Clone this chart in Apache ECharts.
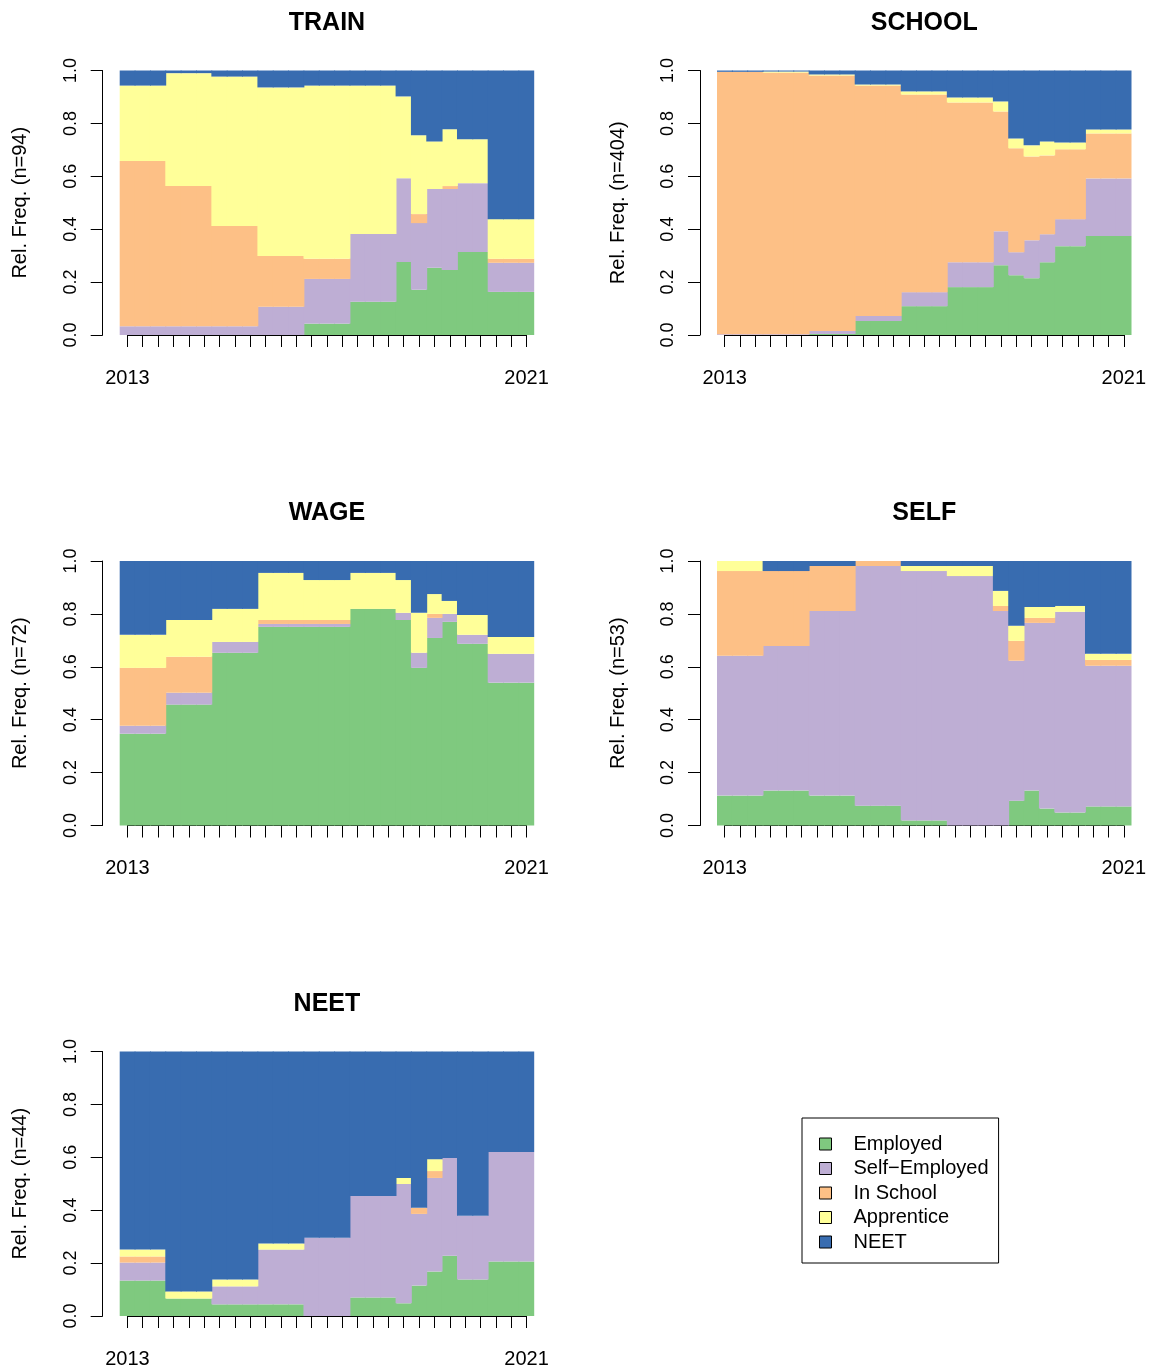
<!DOCTYPE html>
<html><head><meta charset="utf-8">
<script src="https://cdn.jsdelivr.net/npm/echarts@6/dist/echarts.min.js"></script>
<style>html,body{margin:0;padding:0;background:#fff}#c{width:1154px;height:1371px}</style>
</head><body><div id="c"></div>
<script>
// ---------- DATA ----------
const timeLabels = ['2013','','','','','','','','','','','','','','','','','','','','','','','','','','2021'];
const stateNames = ['Employed','Self\u2212Employed','In School','Apprentice','NEET'];
const panelNames = ['TRAIN','SCHOOL','WAGE','SELF','NEET'];
const panelN = [94, 404, 72, 53, 44];

const trainEmployed = [0,0,0, 0,0,0, 0,0,0, 0,0,0, 0.043,0.043,0.043, 0.126,0.126,0.126, 0.276, 0.171, 0.254, 0.246, 0.314,0.314, 0.163,0.163,0.163];
const trainSelf     = [0.033,0.033,0.033, 0.033,0.033,0.033, 0.033,0.033,0.033, 0.107,0.107,0.107, 0.169,0.169,0.169, 0.256,0.256,0.256, 0.317, 0.252, 0.298, 0.306, 0.260,0.260, 0.110,0.110,0.110];
const trainSchool   = [0.625,0.625,0.625, 0.530,0.530,0.530, 0.379,0.379,0.379, 0.192,0.192,0.192, 0.076,0.076,0.076, 0,0,0, 0, 0.034, 0, 0.011, 0,0, 0.015,0.015,0.015];
const trainAppr     = [0.285,0.285,0.285, 0.427,0.427,0.427, 0.565,0.565,0.565, 0.637,0.637,0.637, 0.655,0.655,0.655, 0.561,0.561,0.561, 0.309, 0.298, 0.180, 0.215, 0.166,0.166, 0.150,0.150,0.150];
const trainNeet     = [0.057,0.057,0.057, 0.010,0.010,0.010, 0.023,0.023,0.023, 0.064,0.064,0.064, 0.057,0.057,0.057, 0.057,0.057,0.057, 0.098, 0.245, 0.268, 0.222, 0.260,0.260, 0.562,0.562,0.562];

const schoolEmployed = [0,0,0, 0,0,0, 0.004,0.004,0.004, 0.053,0.053,0.053, 0.109,0.109,0.109, 0.181,0.181,0.181, 0.264, 0.226, 0.215, 0.275, 0.336,0.336, 0.374,0.374,0.374];
const schoolSelf     = [0.003,0.003,0.003, 0.003,0.003,0.003, 0.011,0.011,0.011, 0.019,0.019,0.019, 0.053,0.053,0.053, 0.094,0.094,0.094, 0.128, 0.087, 0.143, 0.106, 0.102,0.102, 0.218,0.218,0.218];
const schoolSchool   = [0.992,0.992,0.992, 0.989,0.989,0.989, 0.966,0.966,0.966, 0.871,0.871,0.871, 0.747,0.747,0.747, 0.604,0.604,0.604, 0.453, 0.393, 0.317, 0.298, 0.264,0.264, 0.170,0.170,0.170];
const schoolAppr     = [0,0,0, 0.004,0.004,0.004, 0.004,0.004,0.004, 0.004,0.004,0.004, 0.012,0.012,0.012, 0.019,0.019,0.019, 0.038, 0.037, 0.042, 0.053, 0.026,0.026, 0.015,0.015,0.015];
const schoolNeet     = [0.005,0.005,0.005, 0.004,0.004,0.004, 0.015,0.015,0.015, 0.053,0.053,0.053, 0.079,0.079,0.079, 0.102,0.102,0.102, 0.117, 0.257, 0.283, 0.268, 0.272,0.272, 0.223,0.223,0.223];

const wageEmployed = [0.347,0.347,0.347, 0.457,0.457,0.457, 0.653,0.653,0.653, 0.751,0.751,0.751, 0.751,0.751,0.751, 0.819,0.819,0.819, 0.777, 0.596, 0.709, 0.770, 0.687,0.687, 0.540,0.540,0.540];
const wageSelf     = [0.030,0.030,0.030, 0.045,0.045,0.045, 0.041,0.041,0.041, 0.011,0.011,0.011, 0.011,0.011,0.011, 0,0,0, 0.027, 0.057, 0.076, 0.030, 0.034,0.034, 0.109,0.109,0.109];
const wageSchool   = [0.219,0.219,0.219, 0.136,0.136,0.136, 0,0,0, 0.015,0.015,0.015, 0.015,0.015,0.015, 0,0,0, 0, 0, 0.015, 0, 0,0, 0,0,0];
const wageAppr     = [0.125,0.125,0.125, 0.139,0.139,0.139, 0.125,0.125,0.125, 0.178,0.178,0.178, 0.151,0.151,0.151, 0.136,0.136,0.136, 0.124, 0.151, 0.075, 0.049, 0.075,0.075, 0.064,0.064,0.064];
const wageNeet     = [0.279,0.279,0.279, 0.223,0.223,0.223, 0.181,0.181,0.181, 0.045,0.045,0.045, 0.072,0.072,0.072, 0.045,0.045,0.045, 0.072, 0.196, 0.125, 0.151, 0.204,0.204, 0.287,0.287,0.287];

const selfEmployed = [0.113,0.113,0.113, 0.132,0.132,0.132, 0.113,0.113,0.113, 0.075,0.075,0.075, 0.019,0.019,0.019, 0,0,0, 0, 0.094, 0.132, 0.064, 0.049,0.049, 0.072,0.072,0.072];
const selfSelf     = [0.529,0.529,0.529, 0.547,0.547,0.547, 0.698,0.698,0.698, 0.906,0.906,0.906, 0.943,0.943,0.943, 0.943,0.943,0.943, 0.811, 0.529, 0.634, 0.702, 0.759,0.759, 0.532,0.532,0.532];
const selfSchool   = [0.320,0.320,0.320, 0.283,0.283,0.283, 0.170,0.170,0.170, 0.019,0.019,0.019, 0,0,0, 0,0,0, 0.019, 0.075, 0.019, 0.019, 0,0, 0.022,0.022,0.022];
const selfAppr     = [0.038,0.038,0.038, 0,0,0, 0,0,0, 0,0,0, 0.019,0.019,0.019, 0.038,0.038,0.038, 0.057, 0.057, 0.041, 0.041, 0.022,0.022, 0.023,0.023,0.023];
const selfNeet     = [0,0,0, 0.038,0.038,0.038, 0.019,0.019,0.019, 0,0,0, 0.019,0.019,0.019, 0.019,0.019,0.019, 0.113, 0.245, 0.174, 0.174, 0.170,0.170, 0.351,0.351,0.351];

const neetEmployed = [0.134,0.134,0.134, 0.066,0.066,0.066, 0.044,0.044,0.044, 0.044,0.044,0.044, 0,0,0, 0.070,0.070,0.070, 0.048, 0.115, 0.168, 0.228, 0.138,0.138, 0.206,0.206,0.206];
const neetSelf     = [0.068,0.068,0.068, 0,0,0, 0.068,0.068,0.068, 0.207,0.207,0.207, 0.296,0.296,0.296, 0.384,0.384,0.384, 0.451, 0.271, 0.354, 0.369, 0.241,0.241, 0.414,0.414,0.414];
const neetSchool   = [0.023,0.023,0.023, 0,0,0, 0,0,0, 0,0,0, 0,0,0, 0,0,0, 0, 0.023, 0.026, 0, 0,0, 0,0,0];
const neetAppr     = [0.026,0.026,0.026, 0.027,0.027,0.027, 0.026,0.026,0.026, 0.023,0.023,0.023, 0,0,0, 0,0,0, 0.023, 0, 0.045, 0, 0,0, 0,0,0];
const neetNeet     = [0.749,0.749,0.749, 0.907,0.907,0.907, 0.862,0.862,0.862, 0.726,0.726,0.726, 0.704,0.704,0.704, 0.546,0.546,0.546, 0.478, 0.591, 0.407, 0.403, 0.621,0.621, 0.380,0.380,0.380];

const panelData = [
  [trainEmployed, trainSelf, trainSchool, trainAppr, trainNeet],
  [schoolEmployed, schoolSelf, schoolSchool, schoolAppr, schoolNeet],
  [wageEmployed, wageSelf, wageSchool, wageAppr, wageNeet],
  [selfEmployed, selfSelf, selfSchool, selfAppr, selfNeet],
  [neetEmployed, neetSelf, neetSchool, neetAppr, neetNeet]
];

// ---------- STYLE / LAYOUT ----------
const stateColors = ['#7FC97F','#BEAED4','#FDC086','#FFFF99','#386CB0'];
const FONT = "'Liberation Sans', Arial, Helvetica, sans-serif";
const plotW = 414.5, plotH = 264.5;
const layout = [
  {left: 119.7, top: 70.5}, {left: 717, top: 70.5},
  {left: 119.7, top: 561},  {left: 717, top: 561},
  {left: 119.7, top: 1051.5}
];
const nCat = timeLabels.length;
const bw = plotW / nCat;

const grid = [], xAxis = [], yAxis = [], series = [], title = [];
panelNames.forEach((pname, i) => {
  const L = layout[i];
  const g0 = 2 * i, g1 = 2 * i + 1;
  grid.push({left: L.left, top: L.top, width: plotW, height: plotH, outerBoundsMode: 'none', containLabel: false});
  grid.push({left: L.left + bw / 2, top: L.top, width: plotW - bw, height: plotH, outerBoundsMode: 'none', containLabel: false});
  xAxis.push({type: 'category', gridIndex: g0, data: timeLabels, show: false, boundaryGap: true});
  xAxis.push({
    type: 'category', gridIndex: g1, data: timeLabels, boundaryGap: false, offset: 7,
    axisLine: {show: true, lineStyle: {color: '#000', width: 1}},
    axisTick: {show: true, length: 12, interval: 0, lineStyle: {color: '#000', width: 1}},
    axisLabel: {show: true, interval: 0, margin: 26, fontSize: 20, color: '#000', fontFamily: FONT},
    splitLine: {show: false}
  });
  yAxis.push({
    type: 'value', gridIndex: g0, min: 0, max: 1, interval: 0.2, offset: 17,
    name: 'Rel. Freq. (n=' + panelN[i] + ')', nameLocation: 'middle', nameGap: 72,
    nameTextStyle: {fontSize: 20, color: '#000', fontFamily: FONT},
    axisLine: {show: true, lineStyle: {color: '#000', width: 1}},
    axisTick: {show: true, length: 12, lineStyle: {color: '#000', width: 1}},
    axisLabel: {show: true, rotate: 90, margin: 23, fontSize: 18, color: '#000', fontFamily: FONT,
      formatter: v => v.toFixed(1)},
    splitLine: {show: false}
  });
  yAxis.push({type: 'value', gridIndex: g1, min: 0, max: 1, show: false});
  title.push({
    text: pname, left: L.left + plotW / 2, textAlign: 'center', top: L.top - 60, padding: 0,
    textStyle: {fontSize: 25, fontWeight: 'bold', color: '#000', fontFamily: FONT}
  });
  panelData[i].forEach((vals, s) => {
    series.push({
      type: 'bar', name: stateNames[s], xAxisIndex: g0, yAxisIndex: g0, stack: 'p' + i,
      data: vals, barWidth: bw + 0.9,
      itemStyle: {color: stateColors[s], borderWidth: 0},
      emphasis: {disabled: true}, animation: false, silent: true
    });
  });
});

const chart = echarts.init(document.getElementById('c'), null, {renderer: 'canvas'});
chart.setOption({
  backgroundColor: '#fff',
  animation: false,
  title: title,
  grid: grid, xAxis: xAxis, yAxis: yAxis, series: series,
  legend: {
    data: stateNames, orient: 'vertical', left: 802, top: 1118,
    itemWidth: 12, itemHeight: 12, itemGap: 4.5, icon: 'rect',
    padding: [16, 10, 11, 17], borderColor: '#000', borderWidth: 1, borderRadius: 0,
    itemStyle: {borderColor: '#000', borderWidth: 1},
    textStyle: {fontSize: 20, lineHeight: 20, color: '#000', fontFamily: FONT, padding: [0, 0, 0, 17]},
    selectedMode: false
  }
});
</script>
</body></html>
